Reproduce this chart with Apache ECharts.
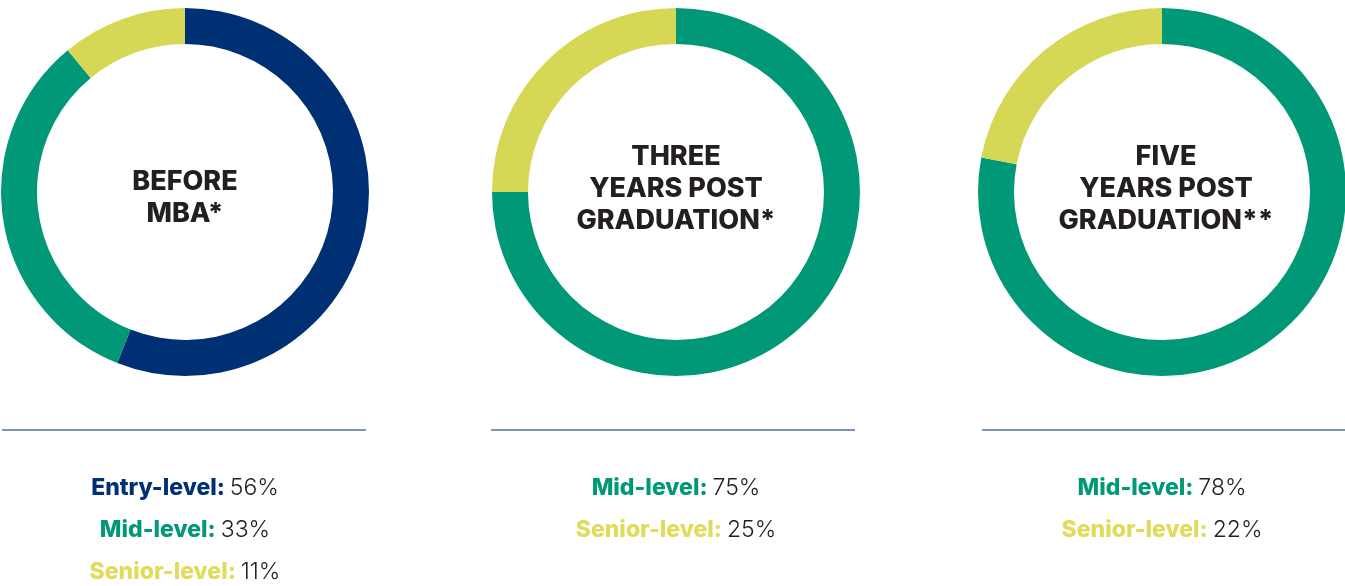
<!DOCTYPE html>
<html>
<head>
<meta charset="utf-8">
<script src="https://cdn.jsdelivr.net/npm/echarts@6/dist/echarts.min.js"></script>
<style>
html,body{margin:0;padding:0;background:#fff;}
#c{width:1345px;height:586px;}
</style>
</head>
<body>
<div id="c"></div>
<script>
// ---- data ----
const chartTitles = ['BEFORE\nMBA*', 'THREE\nYEARS POST\nGRADUATION*', 'FIVE\nYEARS POST\nGRADUATION**'];
const beforeLevels = ['Entry-level', 'Mid-level', 'Senior-level'];
const beforeValues = [56, 33, 11];
const threeYearLevels = ['Mid-level', 'Senior-level'];
const threeYearValues = [75, 25];
const fiveYearLevels = ['Mid-level', 'Senior-level'];
const fiveYearValues = [78, 22];

// ---- styles ----
const levelColors = {'Entry-level': '#003074', 'Mid-level': '#009877', 'Senior-level': '#D5D755'};
const levelTextColors = {'Entry-level': '#003074', 'Mid-level': '#009877', 'Senior-level': '#E0DB5A'};
const centersX = [185, 676, 1162];
const centerY = 192;
const lineSpans = [[2, 366], [491, 855], [982, 1345]];
const groups = [
  {levels: beforeLevels, values: beforeValues},
  {levels: threeYearLevels, values: threeYearValues},
  {levels: fiveYearLevels, values: fiveYearValues}
];

const FONT = 'Inter, "Open Sans", sans-serif';
const series = [];
const titles = [];
const graphics = [];

groups.forEach((g, i) => {
  series.push({
    type: 'pie',
    center: [centersX[i], centerY],
    radius: [148, 184],
    startAngle: 90,
    clockwise: true,
    silent: true,
    label: {show: false},
    labelLine: {show: false},
    itemStyle: {borderWidth: 0},
    data: g.levels.map((l, k) => ({name: l, value: g.values[k], itemStyle: {color: levelColors[l]}}))
  });
  const nLines = chartTitles[i].split('\n').length;
  const midY = nLines === 2 ? 198 : 189;
  titles.push({
    text: chartTitles[i],
    left: centersX[i] + (i === 2 ? 4 : 0),
    top: midY - nLines * 16,
    textAlign: 'center',
    padding: 0,
    textStyle: {fontFamily: FONT, fontSize: 27, fontWeight: 800, color: '#231F20', lineHeight: 32}
  });
  graphics.push({
    type: 'line',
    shape: {x1: lineSpans[i][0], y1: 430, x2: lineSpans[i][1], y2: 430},
    style: {stroke: '#7D93B8', lineWidth: 2}
  });
  g.levels.forEach((l, k) => {
    titles.push({
      text: '{b|' + l + ':} {v|' + g.values[k] + '%}',
      left: centersX[i],
      top: 488 + k * 42 - 14,
      textAlign: 'center',
      padding: 0,
      textStyle: {
        rich: {
          b: {fontFamily: FONT, fontSize: 23, fontWeight: 800, color: levelTextColors[l], lineHeight: 28},
          v: {fontFamily: FONT, fontSize: 23, fontWeight: 300, color: '#231F20', lineHeight: 28}
        }
      }
    });
  });
});

const chart = echarts.init(document.getElementById('c'), null, {renderer: 'canvas'});
chart.setOption({
  animation: false,
  backgroundColor: '#ffffff',
  title: titles,
  series: series,
  graphic: graphics
});
</script>
</body>
</html>
